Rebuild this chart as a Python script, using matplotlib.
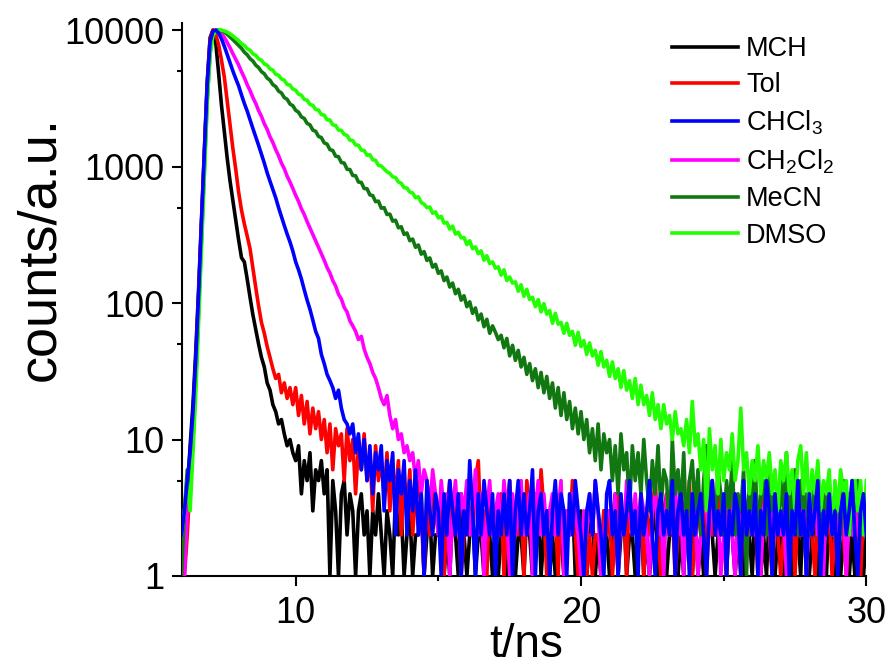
import matplotlib
matplotlib.use("Agg")
import matplotlib.pyplot as plt
from matplotlib.ticker import FixedLocator, NullFormatter
import numpy as np

plt.rcParams['font.family'] = ['Liberation Sans', 'DejaVu Sans']
plt.rcParams['mathtext.default'] = 'regular'

# time channels: 6.0 ns ... 30.0 ns, 0.1 ns apart (one row = 1 ns)
t_start = 6.0
t_step = 0.1

mch = [1, 2, 4, 9, 18, 45, 130, 420, 1300, 4200,
       8800, 10000, 8000, 4800, 2800, 1800, 1150, 780, 560, 400,
       290, 215, 200, 150, 110, 82, 64, 50, 40, 34,
       26, 23, 18, 16, 13, 14, 11, 9, 10, 8,
       7, 9, 4, 7, 5, 8, 3, 6, 5, 7,
       4, 6, 1, 5, 3, 1, 4, 5, 2, 4,
       3, 1, 3, 4, 2, 3, 1, 3, 2, 4,
       2, 1, 3, 2, 1, 4, 2, 3, 1, 2,
       3, 1, 2, 2, 4, 1, 2, 3, 1, 2,
       2, 3, 1, 2, 1, 3, 2, 1, 4, 2,
       1, 2, 3, 1, 2, 2, 1, 3, 2, 1,
       3, 1, 2, 4, 1, 2, 3, 1, 2, 2,
       1, 3, 2, 1, 2, 4, 1, 2, 3, 1,
       2, 1, 3, 2, 1, 2, 2, 4, 1, 2,
       3, 2, 1, 2, 3, 1, 2, 1, 3, 2,
       1, 2, 4, 1, 2, 3, 1, 2, 2, 1,
       2, 3, 1, 2, 1, 2, 4, 1, 3, 2,
       1, 2, 2, 3, 1, 2, 1, 3, 2, 1,
       3, 1, 2, 1, 2, 4, 2, 1, 2, 3,
       2, 1, 3, 2, 1, 2, 3, 1, 2, 2,
       1, 3, 2, 1, 2, 1, 3, 2, 1, 2,
       2, 1, 2, 3, 1, 2, 2, 1, 4, 1,
       1, 2, 3, 1, 2, 2, 1, 3, 2, 1,
       2, 1, 2, 3, 1, 2, 1, 2, 3, 1,
       2]

tol = [1, 1, 2, 5, 12, 35, 110, 380, 1200, 3900,
       8500, 10000, 9200, 7800, 6000, 4500, 3000, 2000, 1350, 950,
       650, 480, 380, 310, 250, 180, 130, 95, 72, 60,
       48, 40, 33, 28, 30, 22, 26, 20, 24, 18,
       24, 15, 21, 13, 19, 11, 17, 12, 16, 10,
       14, 8, 13, 6, 12, 9, 11, 5, 12, 7,
       10, 4, 9, 6, 11, 5, 8, 3, 9, 5,
       7, 4, 8, 3, 6, 4, 7, 2, 5, 3,
       6, 2, 4, 5, 3, 1, 4, 2, 5, 3,
       2, 4, 1, 3, 5, 2, 4, 3, 1, 2,
       4, 3, 2, 5, 7, 2, 3, 1, 4, 2,
       3, 2, 4, 1, 3, 5, 2, 3, 2, 4,
       1, 5, 3, 2, 4, 2, 6, 3, 1, 2,
       2, 3, 1, 4, 2, 3, 2, 5, 2, 1,
       2, 2, 1, 2, 1, 2, 2, 1, 3, 2,
       3, 1, 2, 4, 2, 3, 1, 5, 2, 3,
       2, 4, 1, 3, 2, 3, 5, 2, 1, 3,
       4, 2, 3, 1, 2, 4, 3, 2, 5, 1,
       2, 3, 2, 4, 1, 3, 2, 3, 4, 2,
       3, 1, 4, 2, 3, 2, 1, 3, 2, 4,
       2, 3, 1, 4, 2, 3, 2, 1, 3, 2,
       1, 2, 3, 2, 4, 1, 3, 2, 2, 3,
       3, 2, 1, 3, 2, 4, 2, 3, 1, 2,
       2, 3, 2, 1, 4, 2, 3, 2, 1, 3,
       2]

chcl3 = [2, 3, 5, 8, 16, 40, 120, 400, 1250, 4000,
         8200, 9800, 10000, 9500, 8600, 7600, 6600, 5700, 5000, 4400,
         3900, 3350, 2900, 2550, 2200, 1900, 1650, 1430, 1230, 1060,
         900, 780, 680, 590, 500, 430, 370, 320, 280, 240,
         200, 175, 150, 125, 105, 90, 75, 62, 55, 42,
         36, 30, 27, 24, 20, 23, 17, 14, 13, 11,
         13, 8, 11, 6, 10, 5, 9, 4, 8, 6,
         9, 3, 7, 5, 8, 2, 6, 4, 7, 2,
         5, 3, 6, 2, 4, 1, 5, 3, 2, 4,
         3, 1, 4, 2, 5, 3, 2, 4, 1, 3,
         2, 7, 3, 1, 4, 2, 5, 3, 2, 4,
         1, 3, 2, 4, 2, 5, 1, 3, 5, 2,
         4, 2, 3, 6, 1, 3, 4, 2, 3, 1,
         3, 5, 2, 4, 3, 1, 4, 2, 5, 3,
         2, 1, 3, 4, 2, 5, 3, 2, 1, 4,
         5, 2, 3, 1, 4, 2, 3, 5, 2, 3,
         1, 4, 2, 3, 5, 2, 1, 3, 4, 2,
         3, 2, 5, 1, 3, 4, 2, 3, 1, 4,
         2, 3, 4, 2, 1, 3, 5, 2, 3, 2,
         4, 1, 3, 2, 4, 3, 1, 5, 2, 3,
         2, 4, 1, 3, 2, 5, 3, 1, 4, 2,
         3, 2, 4, 1, 3, 2, 5, 2, 3, 1,
         4, 2, 3, 5, 1, 3, 2, 4, 2, 3,
         1, 3, 4, 2, 3, 5, 2, 1, 3, 4,
         2]

ch2cl2 = [2, 1, 3, 5, 11, 30, 100, 340, 1100, 3500,
          7600, 9600, 10000, 9900, 9400, 8800, 8100, 7400, 6700, 6100,
          5550, 4950, 4480, 3980, 3600, 3200, 2900, 2570, 2330, 2060,
          1870, 1650, 1500, 1330, 1200, 1060, 965, 850, 770, 690,
          615, 555, 490, 445, 395, 355, 318, 285, 256, 228,
          206, 182, 166, 146, 133, 116, 107, 93, 86, 74,
          68, 62, 54, 57, 46, 40, 36, 31, 28, 24,
          20, 18, 21, 15, 12, 14, 10, 11, 8, 9,
          7, 8, 5, 7, 4, 6, 5, 3, 6, 4,
          2, 5, 3, 4, 1, 3, 5, 2, 4, 3,
          5, 2, 3, 6, 2, 4, 1, 3, 5, 2,
          3, 4, 2, 5, 3, 1, 4, 2, 3, 5,
          2, 3, 4, 1, 3, 5, 2, 4, 2, 3,
          4, 2, 3, 5, 1, 3, 2, 4, 3, 2,
          1, 3, 2, 4, 2, 5, 3, 1, 2, 3,
          3, 2, 4, 1, 3, 2, 5, 3, 2, 4,
          2, 4, 3, 2, 1, 3, 4, 2, 3, 1,
          4, 2, 3, 5, 2, 3, 1, 4, 2, 3,
          3, 1, 2, 4, 3, 2, 5, 2, 3, 1,
          2, 3, 4, 2, 1, 3, 2, 4, 3, 2,
          4, 2, 3, 1, 3, 5, 2, 3, 2, 4,
          2, 3, 1, 4, 2, 3, 3, 2, 4, 1,
          3, 2, 4, 2, 3, 1, 4, 3, 2, 3,
          2, 4, 3, 1, 3, 2, 4, 2, 3, 4,
          3]

mecn = [1, 3, 6, 4, 10, 28, 90, 300, 980, 3100,
        6900, 9300, 9900, 10000, 9900, 9650, 9300, 8900, 8500, 8100,
        7710, 7350, 6880, 6590, 6170, 5930, 5530, 5310, 4960, 4780,
        4450, 4290, 3980, 3850, 3570, 3460, 3200, 3110, 2870, 2790,
        2580, 2500, 2310, 2250, 2070, 2020, 1850, 1810, 1660, 1630,
        1490, 1460, 1330, 1310, 1190, 1180, 1070, 1060, 955, 950,
        860, 855, 770, 765, 690, 688, 620, 612, 553, 558,
        495, 500, 445, 448, 398, 404, 356, 362, 318, 326,
        286, 294, 256, 266, 228, 238, 205, 214, 183, 192,
        165, 172, 146, 155, 131, 140, 117, 126, 105, 113,
        94, 102, 84, 92, 75, 83, 67, 76, 60, 68,
        61, 54, 58, 47, 55, 41, 49, 38, 45, 34,
        40, 30, 36, 27, 33, 24, 31, 22, 29, 20,
        26, 17, 24, 15, 22, 14, 19, 12, 17, 11,
        16, 10, 14, 8, 12, 7, 13, 6, 11, 8,
        10, 5, 9, 4, 11, 6, 8, 3, 9, 5,
        8, 4, 10, 5, 3, 7, 4, 9, 3, 6,
        5, 2, 10, 4, 6, 3, 8, 2, 5, 7,
        3, 6, 2, 5, 9, 3, 5, 2, 6, 4,
        2, 5, 3, 7, 2, 4, 3, 6, 1, 5,
        3, 7, 2, 4, 5, 2, 6, 3, 4, 2,
        5, 3, 8, 2, 4, 6, 2, 5, 3, 4,
        2, 5, 3, 6, 2, 4, 3, 5, 2, 3,
        4, 2, 5, 3, 2, 4, 3, 5, 2, 4,
        3]

dmso = [2, 3, 5, 3, 8, 22, 75, 260, 900, 2900,
        6600, 9100, 9850, 10000, 9980, 9850, 9650, 9380, 9050, 8700,
        8360, 7950, 7720, 7300, 7110, 6700, 6530, 6150, 6010, 5650,
        5520, 5190, 5080, 4740, 4660, 4380, 4290, 3990, 3950, 3690,
        3620, 3390, 3330, 3100, 3060, 2850, 2810, 2620, 2590, 2400,
        2380, 2200, 2190, 2020, 2000, 1850, 1840, 1720, 1690, 1560,
        1550, 1440, 1430, 1320, 1310, 1210, 1220, 1120, 1110, 1020,
        1010, 960, 915, 890, 840, 830, 770, 755, 700, 695,
        650, 640, 590, 600, 545, 530, 500, 505, 455, 465,
        420, 432, 385, 390, 348, 366, 320, 330, 300, 302,
        268, 286, 250, 258, 230, 241, 206, 222, 195, 200,
        180, 184, 160, 175, 146, 155, 140, 143, 122, 136,
        112, 126, 106, 110, 94, 106, 86, 99, 83, 88,
        71, 84, 70, 72, 60, 71, 58, 62, 49, 61,
        48, 53, 42, 51, 41, 45, 35, 44, 34, 38,
        29, 37, 28, 33, 24, 32, 23, 27, 20, 28,
        18, 25, 18, 21, 15, 22, 14, 18, 12, 18,
        13, 15, 10, 16, 11, 12, 9, 14, 8, 19,
        9, 11, 6, 10, 3, 12, 6, 9, 4, 10,
        5, 8, 6, 11, 5, 7, 17, 6, 8, 4,
        7, 5, 9, 4, 7, 5, 8, 4, 6, 3,
        7, 5, 8, 4, 6, 3, 7, 9, 4, 8,
        3, 6, 4, 7, 3, 5, 4, 6, 2, 5,
        3, 6, 4, 5, 2, 5, 5, 3, 5, 2,
        5]

labels = ['MCH', 'Tol', 'CHCl$_3$', 'CH$_2$Cl$_2$', 'MeCN', 'DMSO']
colors = ['#000000', '#FF0000', '#0000FF', '#FF00FF', '#117711', '#22FF00']
layer = [2, 3, 7, 4, 5, 6]   # blue ends up on top in the noise floor

fig = plt.figure(figsize=(8.9, 6.7), dpi=100)
ax = fig.add_axes([0.204, 0.1403, 0.7694, 0.8249])

for y, lab, c, z in zip([mch, tol, chcl3, ch2cl2, mecn, dmso], labels, colors, layer):
    t = t_start + t_step * np.arange(len(y))
    ax.plot(t, y, color=c, lw=2.6, label=lab, zorder=z)

ax.set_yscale('log')
ax.set_xlim(6, 30)
ax.set_ylim(1, 11200)

ax.set_xticks([10, 20, 30])
ax.xaxis.set_minor_locator(FixedLocator([15, 25]))
ax.set_yticks([1, 10, 100, 1000, 10000])
ax.set_yticklabels(['1', '10', '100', '1000', '10000'])
ax.yaxis.set_minor_locator(FixedLocator([5, 50, 500, 5000]))
ax.yaxis.set_minor_formatter(NullFormatter())

for s in ['top', 'right']:
    ax.spines[s].set_visible(False)
for s in ['left', 'bottom']:
    ax.spines[s].set_linewidth(1.5)

ax.tick_params(which='both', direction='out', width=1.5, labelsize=26)
ax.tick_params(which='major', length=7.2)
ax.tick_params(which='minor', length=3.6)
ax.tick_params(axis='x', pad=7)
ax.tick_params(axis='y', pad=5)

ax.set_xlabel('t/ns', fontsize=33)
ax.xaxis.set_label_coords(0.503, -0.085)
ax.set_ylabel('counts/a.u.', fontsize=39)
ax.yaxis.set_label_coords(-0.17, 0.592)

ax.legend(loc='upper left', bbox_to_anchor=(0.7547, 0.946), bbox_transform=fig.transFigure,
          frameon=False, fontsize=19.5, handlelength=2.45, handletextpad=0.3,
          labelspacing=0.38, borderpad=0, borderaxespad=0)

fig.savefig('out.png', dpi=100)
